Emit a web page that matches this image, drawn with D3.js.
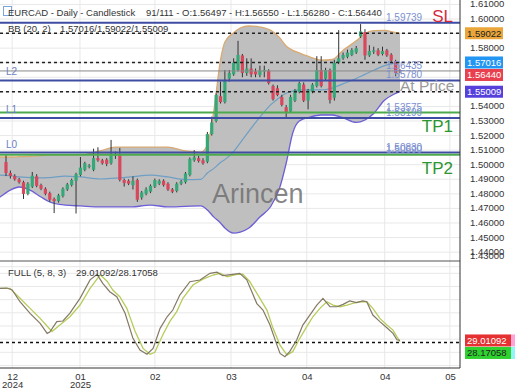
<!DOCTYPE html>
<html>
<head>
<meta charset="utf-8">
<script src="https://cdn.jsdelivr.net/npm/d3@7"></script>
<style>
  body { margin: 0; background: #fff; }
  svg text { font-family: "Liberation Sans", Arial, sans-serif; }
</style>
</head>
<body>
<svg id="chart" width="520" height="390"></svg>
<script>
"use strict";

// /////// DATA

// Daily candles
const opens = [1.5018, 1.4943, 1.4922, 1.4900, 1.4880, 1.4800, 1.4850, 1.4920, 1.4860, 1.4835,
  1.4805, 1.4765, 1.4750, 1.4785, 1.4830, 1.4860, 1.4890, 1.4930, 1.4965, 1.4985,
  1.4965, 1.5045, 1.5030, 1.5035, 1.5010, 1.5060, 1.5065, 1.4895, 1.4890, 1.4860,
  1.4895, 1.4775, 1.4800, 1.4815, 1.4850, 1.4870, 1.4890, 1.4870, 1.4830, 1.4820,
  1.4870, 1.4880, 1.4930, 1.5030, 1.5045, 1.5030, 1.5020, 1.5210, 1.5300, 1.5470,
  1.5430, 1.5590, 1.5620, 1.5650, 1.5750, 1.5630, 1.5660, 1.5640, 1.5615, 1.5640,
  1.5645, 1.5540, 1.5525, 1.5465, 1.5395, 1.5365, 1.5440, 1.5500, 1.5550, 1.5440,
  1.5500, 1.5540, 1.5650, 1.5590, 1.5650, 1.5460, 1.5700, 1.5730, 1.5740, 1.5753,
  1.5770, 1.5880, 1.5910, 1.5750, 1.5775, 1.5785, 1.5760, 1.5785, 1.5755, 1.5710,
  1.56497];
const highs = [1.5067, 1.4960, 1.4935, 1.4910, 1.4890, 1.4880, 1.4950, 1.4935, 1.4870, 1.4845,
  1.4815, 1.4775, 1.4800, 1.4845, 1.4875, 1.4905, 1.4945, 1.5053, 1.5020, 1.5005,
  1.5110, 1.5120, 1.5040, 1.5045, 1.5170, 1.5090, 1.5115, 1.4905, 1.4900, 1.4920,
  1.4905, 1.4820, 1.4845, 1.4865, 1.4905, 1.4900, 1.4900, 1.4880, 1.4840, 1.4880,
  1.4895, 1.4950, 1.5050, 1.5100, 1.5060, 1.5045, 1.5225, 1.5330, 1.5490, 1.5570,
  1.5650, 1.5650, 1.5730, 1.5850, 1.5760, 1.5730, 1.5730, 1.5660, 1.5680, 1.5680,
  1.5655, 1.5550, 1.5545, 1.5480, 1.5410, 1.5480, 1.5520, 1.5570, 1.5565, 1.5520,
  1.5560, 1.5745, 1.5745, 1.5665, 1.5660, 1.5720, 1.5924, 1.5770, 1.5790, 1.5800,
  1.5815, 1.5965, 1.5930, 1.5820, 1.5810, 1.5800, 1.5810, 1.5795, 1.5765, 1.5720,
  1.56550];
const lows = [1.4922, 1.4905, 1.4890, 1.4870, 1.4765, 1.4790, 1.4840, 1.4845, 1.4825, 1.4790,
  1.4745, 1.4668, 1.4740, 1.4775, 1.4820, 1.4850, 1.4665, 1.4920, 1.4955, 1.4975,
  1.4955, 1.5020, 1.5000, 1.4990, 1.5000, 1.5040, 1.4885, 1.4850, 1.4860, 1.4830,
  1.4745, 1.4760, 1.4790, 1.4805, 1.4840, 1.4860, 1.4850, 1.4820, 1.4805, 1.4810,
  1.4860, 1.4870, 1.4920, 1.5020, 1.5015, 1.5000, 1.5010, 1.5200, 1.5290, 1.5420,
  1.5420, 1.5570, 1.5610, 1.5640, 1.5600, 1.5610, 1.5600, 1.5600, 1.5600, 1.5600,
  1.5550, 1.5440, 1.5470, 1.5400, 1.5320, 1.5355, 1.5430, 1.5490, 1.5430, 1.5380,
  1.5490, 1.5530, 1.5530, 1.5580, 1.5420, 1.5440, 1.5690, 1.5720, 1.5730, 1.5745,
  1.5760, 1.5870, 1.5720, 1.5740, 1.5760, 1.5745, 1.5750, 1.5740, 1.5700, 1.5610,
  1.56280];
const closes = [1.4943, 1.4922, 1.4900, 1.4880, 1.4800, 1.4870, 1.4925, 1.4855, 1.4835, 1.4800,
  1.4760, 1.4750, 1.4790, 1.4835, 1.4865, 1.4895, 1.4935, 1.4980, 1.5010, 1.4995,
  1.5045, 1.5030, 1.5010, 1.5005, 1.5065, 1.5070, 1.4895, 1.4875, 1.4870, 1.4890,
  1.4760, 1.4810, 1.4830, 1.4855, 1.4895, 1.4890, 1.4860, 1.4830, 1.4815, 1.4870,
  1.4885, 1.4940, 1.5040, 1.5050, 1.5025, 1.5010, 1.5210, 1.5290, 1.5478, 1.5430,
  1.5580, 1.5630, 1.5700, 1.5753, 1.5630, 1.5660, 1.5620, 1.5620, 1.5645, 1.5650,
  1.5560, 1.5450, 1.5478, 1.5410, 1.5355, 1.5465, 1.5510, 1.5560, 1.5440, 1.5510,
  1.5550, 1.5650, 1.5540, 1.5650, 1.5444, 1.5700, 1.5730, 1.5753, 1.5770, 1.5787,
  1.5800, 1.5915, 1.5750, 1.5780, 1.5785, 1.5755, 1.5780, 1.5750, 1.5715, 1.5630,
  1.56440];

// Bollinger bands, read at these bar positions
const bbIdx = [-1.5, 1, 3, 5.5, 8, 10, 13.5, 17, 21.5, 25, 28.5, 33, 37, 41, 44.5, 46, 47.5, 49, 50,
  52, 53.5, 55.5, 58, 60.5, 62.5, 64, 65.5, 67, 69.5, 72, 74.5, 77, 80, 82, 84, 86.5, 88.5, 90];
const bbUpper = [1.5053, 1.5053, 1.5055, 1.5058, 1.5063, 1.5067, 1.5067, 1.5067, 1.5095, 1.5121,
  1.5121, 1.5121, 1.5121, 1.5094, 1.5087, 1.5135, 1.5375, 1.5719, 1.5842, 1.5906, 1.5938, 1.5952,
  1.5945, 1.5922, 1.5872, 1.5815, 1.5785, 1.5767, 1.5739, 1.5718, 1.5722, 1.5785, 1.5850, 1.5900,
  1.5920, 1.5922, 1.5910, 1.5902];
const bbMid = [1.4929, 1.4925, 1.4916, 1.4912, 1.4909, 1.4912, 1.4922, 1.4916, 1.4902, 1.4908,
  1.4916, 1.4929, 1.4916, 1.4898, 1.4900, 1.4943, 1.4975, 1.5015, 1.5035, 1.5090, 1.5150, 1.5230,
  1.5327, 1.5412, 1.5462, 1.5490, 1.5505, 1.5513, 1.5513, 1.5513, 1.5526, 1.5555, 1.5592, 1.5620,
  1.5648, 1.5680, 1.5695, 1.5702];
const bbLower = [1.4775, 1.4826, 1.4847, 1.4826, 1.4778, 1.4744, 1.4723, 1.4717, 1.4710, 1.4710,
  1.4710, 1.4723, 1.4710, 1.4714, 1.4717, 1.4689, 1.4640, 1.4600, 1.4566, 1.4531, 1.4538, 1.4566,
  1.4641, 1.4715, 1.4840, 1.5010, 1.5218, 1.5300, 1.5327, 1.5341, 1.5341, 1.5322, 1.5290, 1.5307,
  1.5352, 1.5444, 1.5482, 1.5501];
const bbNow = [1.59022, 1.57016, 1.55009];

// Stochastic full (5, 8, 3)
const stochKIdx = [-1.4, 0.2, 1.4, 3.2, 5.5, 7.8, 9.4, 10, 11.6, 13, 14.6, 16.9, 19.2, 20.8, 22.1,
  23.7, 25.3, 27.2, 29, 30.6, 32.2, 33.6, 35.2, 36.8, 38.1, 39.7, 42, 44.3, 46.6, 48.2, 49.5, 51.8,
  53.4, 55, 57.3, 58.7, 60.3, 61.9, 62.6, 63.7, 64.8, 66.4, 67.8, 69.4, 71, 72.4, 74, 75.6, 77,
  78.5, 80.1, 81.5, 82.4, 83.8, 85.4, 87, 88.4, 89.3, 90];
const stochK = [68.6, 68.8, 67.3, 58.4, 49.6, 42, 34.4, 35.4, 43.3, 43.8, 49.8, 61, 75, 79.2, 72.4,
  66, 62.2, 49.6, 30.6, 21.8, 18.5, 23, 38.2, 47, 52.1, 63.5, 73.6, 74.9, 80, 80.8, 78.2, 79.2,
  80, 75, 57, 52.1, 40.7, 25.5, 19.2, 16.7, 20.5, 29.4, 40.7, 48.3, 55.9, 61, 54.6, 54.6, 56.4,
  59, 57.7, 59, 58.4, 48.3, 43.3, 38.7, 34.4, 29.5, 29.01];
const stochDIdx = [-1.4, 0.9, 3.2, 5.5, 7.8, 10.5, 12.3, 14.6, 16.9, 19.2, 21.5, 23.1, 24.4, 26,
  27.6, 29.5, 31.3, 32.9, 34, 35.8, 37.4, 39, 40.4, 42.7, 45, 47.3, 48.9, 50.5, 52.7, 54.1, 55.7,
  58, 59.6, 61, 62.6, 64.2, 65.5, 66.9, 68.7, 70.1, 71.7, 73.3, 74.7, 76.3, 77.9, 79.2, 80.8,
  82.4, 83.8, 85.4, 87, 88.4, 89.3, 90];
const stochD = [68.6, 68.6, 61, 53.4, 45.8, 35.8, 40.7, 47, 55.9, 68.6, 78.8, 74, 67.3, 62.2, 53.4,
  35.8, 23, 18.5, 20, 33.2, 43.3, 50.9, 61, 71.1, 75.6, 78.7, 80, 77.4, 79.2, 79.4, 73.6, 61,
  52.1, 38.2, 25.5, 17.9, 20.5, 29.4, 39.5, 47, 53.4, 58.4, 55.9, 54.6, 55.9, 57.2, 58.4, 58.4,
  53.4, 45.8, 40.7, 36.9, 31.8, 28.17];
const stochLevel = 27.5;
const stochNow = [29.01092, 28.17058];

// Trade levels
const levelValues = [1.59739, 1.56435, 1.55780, 1.53575, 1.53199, 1.50830, 1.50690];
const levelKinds = ["blue", "gray", "blue", "green", "blue", "blue", "green"];
const zoneNames = ["L2", "L1", "L0"];
const zoneValues = [1.55780, 1.53199, 1.50830];
const tagNames = ["SL", "TP1", "TP2"];
const tagValues = [1.59739, 1.53575, 1.50690];

// Axis ticks
const priceTicks = d3.range(143, 162).map((v) => v / 100);
const stochTicks = [10, 20, 30, 40, 50, 60, 70, 80, 90];
const tickIdx = [1.4, 16.9, 34, 51.4, 68.7, 86.5, 101.4];
const tickMonths = ["12", "01", "02", "03", "04", "04", "05"];
const tickYears = ["2024", "2025", "", "", "", "", ""];

// /////// CHART

const upColor = "#36a877";
const downColor = "#d8475c";
const gridColor = "#e8e8e8";
const plotRight = 460;
const mainBottom = 261;
const stochBottom = 368;

const svg = d3.select("#chart");

const x = d3.scaleLinear().domain([0, 90]).range([6, 400]);
const y = d3.scaleLinear().domain([1.43, 1.61]).range([266.7, 4.43]);
const ys = d3.scaleLinear().domain([10, 80]).range([365.5, 273.3]);

const defs = svg.append("defs");
defs.append("clipPath").attr("id", "clipMain")
  .append("rect").attr("x", 0).attr("y", 0).attr("width", plotRight).attr("height", mainBottom);
defs.append("clipPath").attr("id", "clipStoch")
  .append("rect").attr("x", 0).attr("y", mainBottom).attr("width", plotRight).attr("height", stochBottom - mainBottom);
defs.append("clipPath").attr("id", "clipStochAxis")
  .append("rect").attr("x", plotRight).attr("y", 250).attr("width", 60).attr("height", stochBottom - 250);

// Grids
const grid = svg.append("g");
grid.selectAll("line.hp").data(priceTicks).join("line")
  .attr("x1", 0).attr("x2", plotRight)
  .attr("y1", (d) => y(d)).attr("y2", (d) => y(d))
  .attr("stroke", gridColor);
grid.selectAll("line.hs").data(stochTicks).join("line")
  .attr("x1", 0).attr("x2", plotRight)
  .attr("y1", (d) => ys(d)).attr("y2", (d) => ys(d))
  .attr("stroke", gridColor)
  .attr("clip-path", "url(#clipStoch)");
grid.selectAll("line.v").data(tickIdx).join("line")
  .attr("x1", (d) => x(d)).attr("x2", (d) => x(d))
  .attr("y1", 0).attr("y2", stochBottom)
  .attr("stroke", gridColor);

// Main panel
const gMain = svg.append("g").attr("clip-path", "url(#clipMain)");

const bb = bbIdx.map((d, i) => ({ i: d, u: bbUpper[i], m: bbMid[i], l: bbLower[i] }));

gMain.append("path")
  .datum(bb)
  .attr("d", d3.area().curve(d3.curveMonotoneX).x((d) => x(d.i)).y0((d) => y(d.l)).y1((d) => y(d.u)))
  .attr("fill", "#bfbfbf");

const bbLine = (key) => d3.line().curve(d3.curveMonotoneX).x((d) => x(d.i)).y((d) => y(d[key]));
gMain.append("path").datum(bb).attr("d", bbLine("u")).attr("fill", "none").attr("stroke", "#d9aa72").attr("stroke-width", 1.3);
gMain.append("path").datum(bb).attr("d", bbLine("m")).attr("fill", "none").attr("stroke", "#6f9fc4").attr("stroke-width", 1.2);
gMain.append("path").datum(bb).attr("d", bbLine("l")).attr("fill", "none").attr("stroke", "#6c5fd6").attr("stroke-width", 1.3);

// Candles
const candle = gMain.selectAll("g.candle").data(d3.range(opens.length)).join("g");
candle.append("line")
  .attr("x1", (i) => x(i)).attr("x2", (i) => x(i))
  .attr("y1", (i) => y(highs[i])).attr("y2", (i) => y(lows[i]))
  .attr("stroke", "#333").attr("stroke-width", 1);
candle.append("rect")
  .attr("x", (i) => x(i) - 1.6)
  .attr("width", 3.2)
  .attr("y", (i) => y(Math.max(opens[i], closes[i])))
  .attr("height", (i) => Math.max(1, Math.abs(y(opens[i]) - y(closes[i]))))
  .attr("fill", (i) => (closes[i] >= opens[i] ? upColor : downColor));

// Level lines
const levelStroke = { blue: "#3e4ca3", gray: "#8a8a8a", green: "#4caa4c" };
gMain.selectAll("line.level").data(levelValues).join("line")
  .attr("x1", 0).attr("x2", plotRight)
  .attr("y1", (d) => y(d)).attr("y2", (d) => y(d))
  .attr("stroke", (d, i) => levelStroke[levelKinds[i]])
  .attr("stroke-width", (d, i) => (levelKinds[i] === "gray" ? 1 : 2));

gMain.selectAll("line.bbnow").data(bbNow).join("line")
  .attr("x1", 0).attr("x2", plotRight)
  .attr("y1", (d) => y(d)).attr("y2", (d) => y(d))
  .attr("stroke", "#222").attr("stroke-width", 1.4)
  .attr("stroke-dasharray", "3,3");

gMain.selectAll("text.lvl").data(levelValues).join("text")
  .attr("x", 386).attr("y", (d) => y(d) - 2)
  .attr("font-size", 10).attr("fill", "#7b8fd0")
  .text((d) => d.toFixed(5));

gMain.selectAll("text.zone").data(zoneValues).join("text")
  .attr("x", 6).attr("y", (d) => y(d) - 5)
  .attr("font-size", 10).attr("fill", "#6a7fc2")
  .text((d, i) => zoneNames[i]);

gMain.selectAll("text.tag").data(tagValues).join("text")
  .attr("x", 453).attr("text-anchor", "end")
  .attr("y", (d, i) => (i === 0 ? y(d) - 1 : y(d) + 19))
  .attr("font-size", 17)
  .attr("fill", (d, i) => (i === 0 ? "#d42a3c" : "#2e962e"))
  .text((d, i) => tagNames[i]);

gMain.append("text")
  .attr("x", 400).attr("y", 91)
  .attr("font-size", 15.5).attr("fill", "#9a9a9a")
  .text("At Price");

gMain.append("text")
  .attr("x", 212).attr("y", 203)
  .attr("font-size", 27).attr("fill", "#707070").attr("fill-opacity", 0.85)
  .text("Arincen");

// Header
const header = svg.append("g").attr("font-size", 9.5).attr("fill", "#333");
header.append("rect").attr("x", 3.5).attr("y", 6.5).attr("width", 8).attr("height", 9)
  .attr("fill", "none").attr("stroke", "#7aa6dc");
header.append("text").attr("x", 8).attr("y", 16).text("EURCAD - Daily - Candlestick");
header.append("text").attr("x", 146).attr("y", 16)
  .text("91/111 - O:1.56497 - H:1.56550 - L:1.56280 - C:1.56440");
header.append("text").attr("x", 8).attr("y", 32).text("BB (20, 2)");
header.append("text").attr("x", 60).attr("y", 32).text(bbNow[1].toFixed(5) + "/" + bbNow[0].toFixed(5) + "/" + bbNow[2].toFixed(5));

// Stochastic panel
const gStoch = svg.append("g").attr("clip-path", "url(#clipStoch)");
gStoch.append("line")
  .attr("x1", 0).attr("x2", plotRight)
  .attr("y1", ys(stochLevel)).attr("y2", ys(stochLevel))
  .attr("stroke", "#111").attr("stroke-width", 1.5).attr("stroke-dasharray", "3,3");
gStoch.append("path")
  .datum(stochDIdx.map((d, i) => [d, stochD[i]]))
  .attr("d", d3.line().x((d) => x(d[0])).y((d) => ys(d[1])))
  .attr("fill", "none").attr("stroke", "#b5cc5a").attr("stroke-width", 1.3);
gStoch.append("path")
  .datum(stochKIdx.map((d, i) => [d, stochK[i]]))
  .attr("d", d3.line().x((d) => x(d[0])).y((d) => ys(d[1])))
  .attr("fill", "none").attr("stroke", "#857865").attr("stroke-width", 1.2);

svg.append("text").attr("x", 8).attr("y", 276).attr("font-size", 9.5).attr("fill", "#333")
  .text("FULL (5, 8, 3)");
svg.append("text").attr("x", 76).attr("y", 276).attr("font-size", 9.5).attr("fill", "#333")
  .text(stochNow[0].toFixed(5) + "/" + stochNow[1].toFixed(5));

// Frame
svg.append("line").attr("x1", 0).attr("x2", plotRight).attr("y1", mainBottom).attr("y2", mainBottom)
  .attr("stroke", "#555");
svg.append("line").attr("x1", 0).attr("x2", plotRight).attr("y1", stochBottom).attr("y2", stochBottom)
  .attr("stroke", "#333");
svg.append("line").attr("x1", plotRight).attr("x2", plotRight).attr("y1", 0).attr("y2", stochBottom)
  .attr("stroke", "#333");

// Current value tags (pushed apart when they overlap)
const priceTags = [
  { v: bbNow[0], bg: "#eaa63a", fg: "#222" },
  { v: bbNow[1], bg: "#2196f3", fg: "#fff" },
  { v: 1.56440, bg: "#e8404e", fg: "#fff" },
  { v: bbNow[2], bg: "#5540dc", fg: "#fff" },
];
let lastY = -100;
priceTags.forEach((t) => {
  t.y = Math.max(y(t.v), lastY + 12.5);
  lastY = t.y;
});
const stochTags = [
  { v: stochNow[0], bg: "#e53131", fg: "#fff", stripe: "#ffa3d8" },
  { v: stochNow[1], bg: "#2fd12f", fg: "#222", stripe: "#8ff5f5" },
];
lastY = -100;
stochTags.forEach((t) => {
  t.y = Math.max(ys(t.v), lastY + 12.5);
  lastY = t.y;
});

// Right axes - ticks hidden under a value tag are left out
const freeOf = (tags, scale) => (d) => tags.every((t) => Math.abs(scale(d) - t.y) > 8);

const priceAxis = svg.append("g")
  .attr("transform", `translate(${plotRight},0)`)
  .call(d3.axisRight(y).tickValues(priceTicks.filter(freeOf(priceTags, y)))
    .tickSize(0).tickPadding(10).tickFormat(d3.format(".5f")));
priceAxis.select(".domain").remove();
priceAxis.selectAll(".tick").attr("transform", (d) => `translate(0,${Math.min(y(d), 256)})`);

const stochAxis = svg.append("g")
  .attr("transform", `translate(${plotRight},0)`)
  .attr("clip-path", "url(#clipStochAxis)")
  .call(d3.axisRight(ys).tickValues(stochTicks.filter(freeOf(stochTags, ys)))
    .tickSize(0).tickPadding(10).tickFormat(d3.format(".5f")));
stochAxis.select(".domain").remove();

svg.selectAll(".tick text").attr("font-size", 9.5).attr("fill", "#333")
  .attr("font-family", "Liberation Sans, Arial, sans-serif");

const pt = svg.selectAll("g.ptag").data(priceTags).join("g")
  .attr("transform", (d) => `translate(465,${d.y})`);
pt.append("rect").attr("x", 0).attr("y", -6).attr("width", 38).attr("height", 12).attr("fill", (d) => d.bg);
pt.append("text").attr("x", 2).attr("y", 3.5).attr("font-size", 9.5).attr("fill", (d) => d.fg)
  .text((d) => d.v.toFixed(5));

const st = svg.selectAll("g.stag").data(stochTags).join("g")
  .attr("transform", (d) => `translate(465,${d.y})`);
st.append("rect").attr("x", 0).attr("y", -6).attr("width", 46).attr("height", 12).attr("fill", (d) => d.bg);
st.append("rect").attr("x", 46).attr("y", -6).attr("width", 4).attr("height", 12).attr("fill", (d) => d.stripe);
st.append("text").attr("x", 2).attr("y", 3.5).attr("font-size", 9.5).attr("fill", (d) => d.fg)
  .text((d) => d.v.toFixed(5));

// Bottom axis
const timeAxis = svg.append("g")
  .attr("transform", `translate(0,${stochBottom})`)
  .call(d3.axisBottom(x).tickValues(tickIdx).tickSize(0).tickPadding(5).tickFormat((d, i) => tickMonths[i]));
timeAxis.select(".domain").remove();
timeAxis.selectAll(".tick text").attr("font-size", 9.5).attr("fill", "#333")
  .attr("font-family", "Liberation Sans, Arial, sans-serif");
timeAxis.selectAll(".tick").append("text")
  .attr("y", 20).attr("fill", "#333").attr("font-size", 9.5)
  .attr("font-family", "Liberation Sans, Arial, sans-serif")
  .text((d, i) => tickYears[i]);
</script>
</body>
</html>
